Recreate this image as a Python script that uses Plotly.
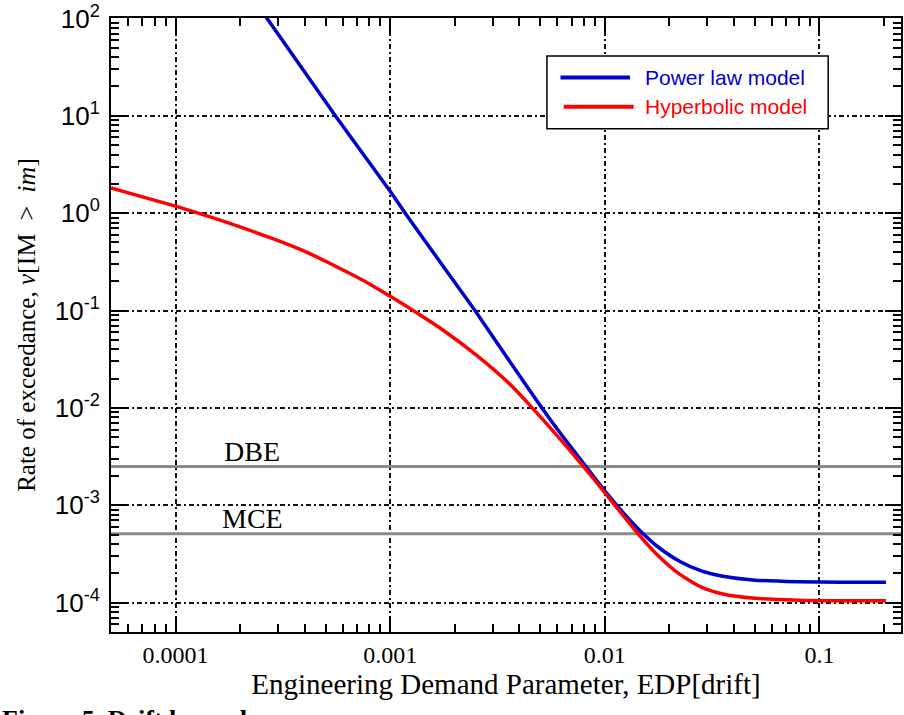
import math
import plotly.graph_objects as go

# ---------------- data ----------------
edp_power = [2.63e-4, 5.55e-4, 1.0e-3, 1.175e-3, 1.778e-3, 2.483e-3, 3.548e-3, 5.093e-3,
             6.31e-3, 8.166e-3, 1.0e-2, 1.138e-2, 1.259e-2, 1.517e-2, 1.778e-2, 2.239e-2,
             2.818e-2, 3.548e-2, 5.012e-2, 7.943e-2, 0.1259, 0.2042]
rate_power = [104.7, 10.0, 1.68, 1.0, 0.279, 0.1, 0.0316, 0.01,
              5.25e-3, 2.5e-3, 1.41e-3, 1.0e-3, 7.73e-4, 5.05e-4, 3.71e-4, 2.65e-4,
              2.12e-4, 1.866e-4, 1.704e-4, 1.64e-4, 1.625e-4, 1.62e-4]

edp_hyper = [5.0e-5, 7.08e-5, 1.0e-4, 1.413e-4, 1.995e-4, 2.818e-4, 3.981e-4, 5.623e-4,
             7.943e-4, 1.0e-3, 1.279e-3, 1.778e-3, 2.512e-3, 3.548e-3, 4.467e-3, 6.31e-3,
             7.943e-3, 1.0e-2, 1.259e-2, 1.439e-2, 1.778e-2, 2.239e-2, 2.818e-2, 3.548e-2,
             5.012e-2, 7.943e-2, 0.1259, 0.2042]
rate_hyper = [1.82, 1.462, 1.18, 0.933, 0.724, 0.55, 0.407, 0.282,
              0.19, 0.14, 0.1, 0.0621, 0.0351, 0.0182, 0.0107, 4.57e-3,
              2.51e-3, 1.35e-3, 7.16e-4, 5.01e-4, 3.02e-4, 1.95e-4, 1.445e-4, 1.23e-4,
              1.11e-4, 1.06e-4, 1.047e-4, 1.047e-4]

hazard_names = ["DBE", "MCE"]
hazard_rates = [2.5e-3, 5.1e-4]

x_range_vals = [5.0e-5, 0.24]
y_range_vals = [5.0e-5, 101]

x_tick_vals = [1e-4, 1e-3, 1e-2, 1e-1]
x_tick_text = ["0.0001", "0.001", "0.01", "0.1"]
y_tick_vals = [1e-4, 1e-3, 1e-2, 1e-1, 1e0, 1e1, 1e2]
y_tick_text = ["10<sup>-4</sup>", "10<sup>-3</sup>", "10<sup>-2</sup>", "10<sup>-1</sup>",
               "10<sup>0</sup>", "10<sup>1</sup>", "10<sup>2</sup>"]

series_names = ["Power law model", "Hyperbolic model"]
series_colors = ["#0000cc", "#ff0000"]

# ---------------- figure ----------------
SERIF = "Liberation Serif"
SANS = "Liberation Sans"
GRID_DASH = "5px,3px,2px,3px"


def minor_vals(lo, hi):
    out = []
    for d in range(-6, 3):
        for k in range(2, 10):
            v = k * 10 ** d
            if lo <= v <= hi:
                out.append(v)
    return out


xr = [math.log10(x_range_vals[0]), math.log10(x_range_vals[1])]
yr = [math.log10(y_range_vals[0]), math.log10(y_range_vals[1])]

fig = go.Figure()

# hazard levels (drawn first, under the curves)
for nm, r in zip(hazard_names, hazard_rates):
    fig.add_trace(go.Scatter(x=x_range_vals, y=[r, r], mode="lines",
                             line=dict(color="#8a8a8a", width=3),
                             showlegend=False, hoverinfo="skip"))
    fig.add_annotation(x=-3.642, y=math.log10(r), text=nm, showarrow=False,
                       xanchor="center", yanchor="bottom", yshift=-2,
                       font=dict(family=SERIF, size=28, color="black"))

for xs, ys, nm, col in [(edp_power, rate_power, series_names[0], series_colors[0]),
                        (edp_hyper, rate_hyper, series_names[1], series_colors[1])]:
    fig.add_trace(go.Scatter(x=xs, y=ys, mode="lines", name=nm,
                             line=dict(color=col, width=3.5, shape="spline", smoothing=0.6),
                             showlegend=False))

# invisible trace carrying the minor-tick overlay axes
fig.add_trace(go.Scatter(x=x_range_vals, y=y_range_vals, mode="lines",
                         line=dict(width=0), xaxis="x2", yaxis="y2",
                         showlegend=False, hoverinfo="skip"))

axis_common = dict(
    type="log", showline=True, linecolor="black", linewidth=2, mirror="allticks",
    ticks="inside", ticklen=16, tickwidth=1.5, tickcolor="black",
    showgrid=True, gridcolor="#111111", gridwidth=1.6, griddash=GRID_DASH,
    zeroline=False, ticklabeloverflow="allow",
)

fig.update_layout(
    xaxis=dict(
        **axis_common, range=xr,
        tickmode="array", tickvals=x_tick_vals, ticktext=x_tick_text,
        tickfont=dict(family=SERIF, size=24, color="black"),
        title=dict(text="Engineering Demand Parameter, EDP[drift]",
                   font=dict(family=SERIF, size=29, color="black"), standoff=7),
    ),
    yaxis=dict(
        **axis_common, range=yr,
        tickmode="array", tickvals=y_tick_vals, ticktext=y_tick_text,
        tickfont=dict(family=SANS, size=26, color="black"),
        ticklabelstandoff=4,
        title=dict(text="Rate of exceedance, <i>ν</i><span style='font-size:26px'>[IM&#8194;&gt;&#8194;<i>im</i>]</span>",
                   font=dict(family=SERIF, size=25, color="black"), standoff=12),
    ),
    xaxis2=dict(type="log", range=xr, overlaying="x", anchor="y", side="bottom",
                showline=False, mirror="allticks", ticks="inside", ticklen=8,
                tickwidth=1.5, tickcolor="black", tickmode="array",
                tickvals=minor_vals(*x_range_vals), showticklabels=False,
                showgrid=False, zeroline=False),
    yaxis2=dict(type="log", range=yr, overlaying="y", anchor="x", side="left",
                showline=False, mirror="allticks", ticks="inside", ticklen=8,
                tickwidth=1.5, tickcolor="black", tickmode="array",
                tickvals=minor_vals(*y_range_vals), showticklabels=False,
                showgrid=False, zeroline=False),
)

# custom legend box
lx0, lx1, ly0, ly1 = 0.5518, 0.9078, 0.8195, 0.9382
fig.add_shape(type="rect", xref="paper", yref="paper", x0=lx0, x1=lx1, y0=ly0, y1=ly1,
              line=dict(color="black", width=1.5), fillcolor="white", layer="above")
legend_rows = [(0.903, 0.569, 0.657), (0.8553, 0.573, 0.6616)]
for (yy, xa, xb), nm, col in zip(legend_rows, series_names, series_colors):
    fig.add_shape(type="line", xref="paper", yref="paper", x0=xa, x1=xb, y0=yy, y1=yy,
                  line=dict(color=col, width=4), layer="above")
    fig.add_annotation(xref="paper", yref="paper", x=0.674, y=yy, text=nm,
                       showarrow=False, xanchor="left", yanchor="middle",
                       font=dict(family=SANS, size=21, color=col))

# caption partly cut off by the bottom of the page, as in the reference
fig.add_annotation(xref="paper", yref="paper", x=-0.1402, y=-0.1154,
                   text="<b>Figure 5. Drift hazard c</b>", showarrow=False,
                   xanchor="left", yanchor="top",
                   font=dict(family=SERIF, size=26, color="black"))

fig.update_layout(
    width=904, height=715,
    margin=dict(l=111, r=1, t=17, b=83),
    paper_bgcolor="white", plot_bgcolor="white",
    showlegend=False,
)

fig.write_html("out.html")
